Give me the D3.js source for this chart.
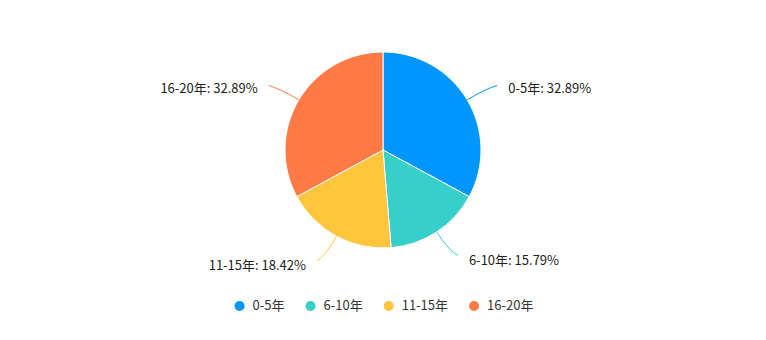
<!DOCTYPE html>
<html><head><meta charset="utf-8">
<script src="https://cdn.jsdelivr.net/npm/d3@7"></script>
<style>body{margin:0;background:#fff}svg{display:block}</style>
</head><body>
<svg id="c" width="766" height="340"></svg>
<script>
const categories = ["0-5年", "6-10年", "11-15年", "16-20年"];
const counts = [25, 12, 14, 25];
const colors = ["#0096FF", "#36CFC9", "#FFC53D", "#FF7A45"];

const W = 766, H = 340, cx = 383, cy = 150, R = 98;
const font = "'Noto Sans CJK SC','Noto Sans',sans-serif";
const svg = d3.select("#c");
const total = d3.sum(counts);
const data = categories.map((c, i) => ({ name: c, value: counts[i], color: colors[i] }));
const pie = d3.pie().value(d => d.value).sort(null);
const arcs = pie(data);
const arc = d3.arc().innerRadius(0).outerRadius(R);
const g = svg.append("g").attr("transform", `translate(${cx},${cy})`);

g.selectAll("path.slice").data(arcs).join("path")
  .attr("class", "slice")
  .attr("d", arc)
  .attr("fill", d => d.data.color)
  .attr("stroke", "#fff").attr("stroke-width", 1);

const pt = (a, r) => [r * Math.sin(a), -r * Math.cos(a)];
arcs.forEach(d => {
  const a = (d.startAngle + d.endAngle) / 2;
  const right = Math.sin(a) >= 0;
  const lower = Math.cos(a) < 0;
  const s = pt(a, R);
  const c = pt(a, R + 22);
  const e0 = pt(a, R + 28);
  const e = [e0[0] + (right ? 6 : -6), e0[1]];
  g.append("path")
    .attr("d", `M${s[0]},${s[1]}Q${c[0]},${c[1]} ${e[0]},${e[1]}`)
    .attr("fill", "none").attr("stroke", d.data.color).attr("stroke-width", 1);
  const pct = (d.data.value / total * 100).toFixed(2);
  g.append("text")
    .attr("x", e[0] + (right ? 11 : -11))
    .attr("y", e[1] + (lower ? 6 : 4))
    .attr("text-anchor", right ? "start" : "end")
    .attr("dominant-baseline", "middle")
    .attr("font-family", font).attr("font-size", 13).attr("fill", "#222")
    .text(`${d.data.name}: ${pct}%`);
});

// legend
const lg = svg.append("g");
const items = lg.selectAll("g.item").data(data).join("g").attr("class", "item");
items.append("circle").attr("r", 5).attr("cx", 0).attr("cy", 0).attr("fill", d => d.color);
items.append("text").attr("x", 13).attr("y", 0).attr("dominant-baseline", "middle")
  .attr("font-family", font).attr("font-size", 13).attr("fill", "#333").text(d => d.name);
let x = 0;
const xs = [];
const gap = 21;
items.each(function () {
  const w = d3.select(this).select("text").node().getComputedTextLength();
  xs.push(x);
  x += 13 + w + gap + 5;
});
const totalW = x - gap - 5 + 5;
const x0 = cx + 1 - totalW / 2 + 5;
items.attr("transform", (d, i) => `translate(${x0 + xs[i]},306)`);
</script>
</body></html>
